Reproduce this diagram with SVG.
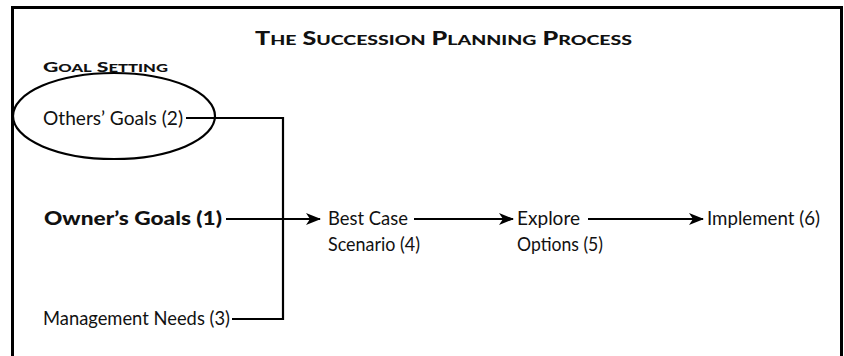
<svg xmlns="http://www.w3.org/2000/svg" width="844" height="356" viewBox="0 0 844 356">
<style>
.t{font-family:Lato,"Open Sans","Liberation Sans",sans-serif;font-size:19px;fill:#111}
.b{font-weight:900}
.sc{font-family:Lato,"Open Sans","Liberation Sans",sans-serif;font-weight:900;fill:#111}
.c{fill:none;stroke:#000;stroke-width:2.2}
</style>
<defs>
<marker id="ah" markerUnits="userSpaceOnUse" markerWidth="16" markerHeight="14" refX="14" refY="7" orient="auto">
<path d="M0,1 L15,7 L0,13 L4,7 z" fill="#000"/>
</marker>
</defs>
<path d="M12.5,360 V7.5 H841.5 V360" fill="none" stroke="#000" stroke-width="3"/>
<text class="sc" x="255" y="45" font-size="18" textLength="377" lengthAdjust="spacingAndGlyphs">T<tspan font-size="14">HE</tspan> S<tspan font-size="14">UCCESSION</tspan> P<tspan font-size="14">LANNING</tspan> P<tspan font-size="14">ROCESS</tspan></text>
<text class="sc" x="43" y="72" font-size="14" textLength="125" lengthAdjust="spacingAndGlyphs">G<tspan font-size="11">OAL</tspan> S<tspan font-size="11">ETTING</tspan></text>
<g id="connectors">
<path class="c" d="M186,118 H283 V319 H232"/>
<path class="c" d="M226,219 H320" marker-end="url(#ah)"/>
<path class="c" d="M414,219 H513" marker-end="url(#ah)"/>
<path class="c" d="M588,219 H703" marker-end="url(#ah)"/>
</g>
<g id="others">
<ellipse cx="114" cy="116" rx="101" ry="43" fill="none" stroke="#000" stroke-width="2.2"/>
<text class="t" x="43" y="125" textLength="140" lengthAdjust="spacingAndGlyphs">Others’ Goals (2)</text>
</g>
<g id="owner"><text class="t b" x="44" y="225" textLength="178" lengthAdjust="spacingAndGlyphs">Owner’s Goals (1)</text></g>
<g id="management"><text class="t" x="43" y="325" textLength="187" lengthAdjust="spacingAndGlyphs">Management Needs (3)</text></g>
<g id="best"><text class="t" x="328" y="225" textLength="80" lengthAdjust="spacingAndGlyphs">Best Case</text><text class="t" x="328" y="251" textLength="92" lengthAdjust="spacingAndGlyphs">Scenario (4)</text></g>
<g id="explore"><text class="t" x="517" y="225" textLength="63" lengthAdjust="spacingAndGlyphs">Explore</text><text class="t" x="517" y="251" textLength="86" lengthAdjust="spacingAndGlyphs">Options (5)</text></g>
<g id="implement"><text class="t" x="707" y="225" textLength="113" lengthAdjust="spacingAndGlyphs">Implement (6)</text></g>
</svg>
